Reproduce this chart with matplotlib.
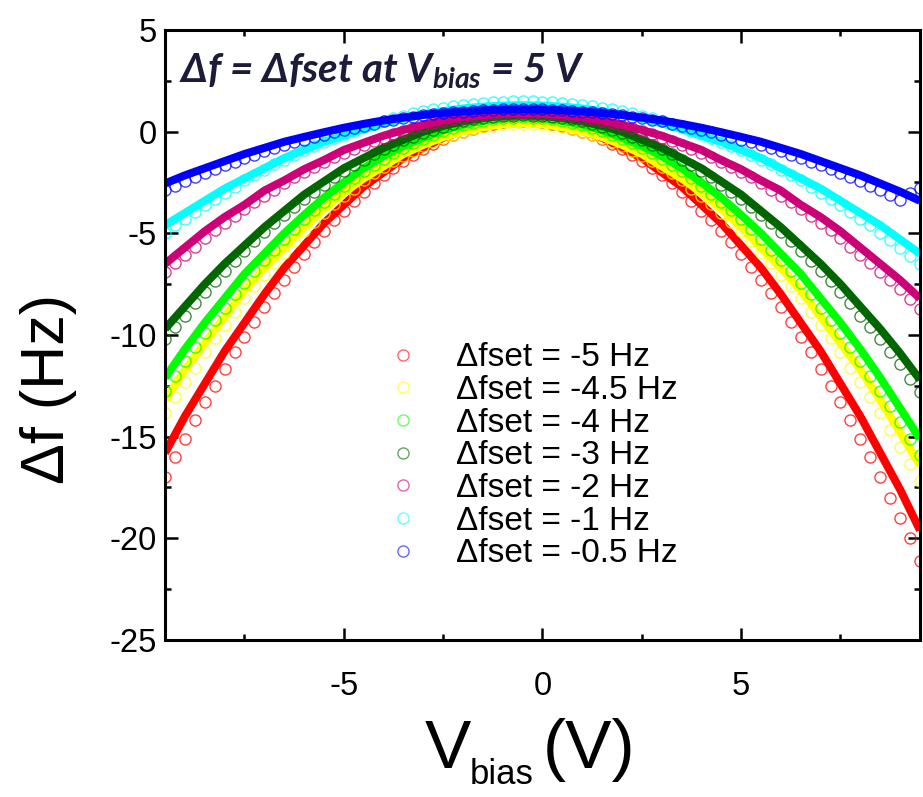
import numpy as np
import matplotlib
matplotlib.use("Agg")
import matplotlib.pyplot as plt
from matplotlib.lines import Line2D

plt.rcParams["font.family"] = ["Liberation Sans", "DejaVu Sans"]
plt.rcParams["axes.unicode_minus"] = False
plt.rcParams["mathtext.fontset"] = "custom"
plt.rcParams["mathtext.it"] = "Lato:italic:bold"
plt.rcParams["mathtext.rm"] = "Lato:bold"

# bias sweeps: measured points every 0.25 V, parabolic fits sampled every 0.5 V
V_MEAS = np.arange(-9.5, 9.51, 0.25)
V_FIT = np.arange(-9.5, 9.51, 0.5)

SET_POINTS = ["-5", "-4.5", "-4", "-3", "-2", "-1", "-0.5"]
COLORS = ["#ff0000", "#ffff00", "#00ff00", "#006600", "#cc0077", "#00ffff", "#0000ff"]

red_meas = [
    -17.0, -16.0, -15.1, -14.2, -13.3, -12.5, -11.65, -10.85, -10.1, -9.35,
    -8.6, -7.95, -7.3, -6.65, -6.0, -5.45, -4.9, -4.35, -3.9, -3.4,
    -2.95, -2.55, -2.15, -1.8, -1.45, -1.15, -0.85, -0.6, -0.35, -0.15,
    0.0, 0.15, 0.3, 0.4, 0.45, 0.5, 0.5, 0.5, 0.45, 0.4,
    0.3, 0.15, 0.0, -0.15, -0.35, -0.6, -0.85, -1.15, -1.45, -1.8,
    -2.15, -2.55, -2.95, -3.4, -3.9, -4.35, -4.9, -5.45, -6.0, -6.65,
    -7.3, -7.95, -8.6, -9.35, -10.1, -10.85, -11.65, -12.5, -13.3, -14.2,
    -15.1, -16.0, -17.0, -18.0, -19.0, -20.0, -21.1,
]
yellow_meas = [
    -13.85, -13.05, -12.3, -11.6, -10.85, -10.15, -9.5, -8.85, -8.2, -7.6,
    -7.05, -6.45, -5.95, -5.4, -4.9, -4.45, -4.0, -3.55, -3.15, -2.8,
    -2.4, -2.05, -1.75, -1.45, -1.2, -0.95, -0.7, -0.5, -0.3, -0.15,
    0.0, 0.13, 0.22, 0.3, 0.36, 0.39, 0.4, 0.39, 0.36, 0.3,
    0.22, 0.13, 0.0, -0.15, -0.3, -0.5, -0.7, -0.95, -1.2, -1.45,
    -1.75, -2.05, -2.4, -2.8, -3.15, -3.55, -4.0, -4.45, -4.9, -5.4,
    -5.95, -6.45, -7.05, -7.6, -8.2, -8.85, -9.5, -10.15, -10.85, -11.6,
    -12.3, -13.05, -13.85, -14.65, -15.5, -16.35, -17.2,
]
green_meas = [
    -12.75, -12.0, -11.3, -10.6, -9.9, -9.25, -8.65, -8.0, -7.45, -6.85,
    -6.3, -5.8, -5.3, -4.8, -4.3, -3.85, -3.45, -3.05, -2.65, -2.3,
    -1.95, -1.65, -1.35, -1.05, -0.8, -0.55, -0.35, -0.15, 0.05, 0.2,
    0.33, 0.44, 0.53, 0.6, 0.66, 0.69, 0.7, 0.69, 0.66, 0.6,
    0.53, 0.44, 0.33, 0.2, 0.05, -0.15, -0.35, -0.55, -0.8, -1.05,
    -1.35, -1.65, -1.95, -2.3, -2.65, -3.05, -3.45, -3.85, -4.3, -4.8,
    -5.3, -5.8, -6.3, -6.85, -7.45, -8.0, -8.65, -9.25, -9.9, -10.6,
    -11.3, -12.0, -12.75, -13.5, -14.3, -15.1, -15.9,
]
dkgreen_meas = [
    -10.2, -9.6, -9.05, -8.45, -7.9, -7.35, -6.85, -6.35, -5.85, -5.4,
    -4.95, -4.5, -4.1, -3.7, -3.3, -2.95, -2.6, -2.25, -1.95, -1.65,
    -1.4, -1.1, -0.85, -0.65, -0.4, -0.25, -0.05, 0.1, 0.25, 0.38,
    0.5, 0.6, 0.66, 0.72, 0.77, 0.79, 0.8, 0.79, 0.77, 0.72,
    0.66, 0.6, 0.5, 0.38, 0.25, 0.1, -0.05, -0.25, -0.4, -0.65,
    -0.85, -1.1, -1.4, -1.65, -1.95, -2.25, -2.6, -2.95, -3.3, -3.7,
    -4.1, -4.5, -4.95, -5.4, -5.85, -6.35, -6.85, -7.35, -7.9, -8.45,
    -9.05, -9.6, -10.2, -10.85, -11.45, -12.15, -12.8,
]
magenta_meas = [
    -6.9, -6.45, -6.05, -5.65, -5.25, -4.85, -4.5, -4.15, -3.8, -3.45,
    -3.15, -2.85, -2.55, -2.25, -2.0, -1.75, -1.5, -1.25, -1.05, -0.85,
    -0.65, -0.45, -0.3, -0.1, 0.05, 0.17, 0.3, 0.41, 0.52, 0.6,
    0.68, 0.75, 0.8, 0.85, 0.88, 0.89, 0.9, 0.89, 0.88, 0.85,
    0.8, 0.75, 0.68, 0.6, 0.52, 0.41, 0.3, 0.17, 0.05, -0.1,
    -0.3, -0.45, -0.65, -0.85, -1.05, -1.25, -1.5, -1.75, -2.0, -2.25,
    -2.55, -2.85, -3.15, -3.45, -3.8, -4.15, -4.5, -4.85, -5.25, -5.65,
    -6.05, -6.45, -6.9, -7.3, -7.75, -8.25, -8.7,
]
cyan_meas = [
    -5.0, -4.6, -4.3, -3.95, -3.6, -3.3, -3.0, -2.7, -2.4, -2.15,
    -1.9, -1.6, -1.4, -1.15, -0.9, -0.7, -0.5, -0.3, -0.1, 0.05,
    0.22, 0.38, 0.52, 0.65, 0.78, 0.9, 1.0, 1.1, 1.18, 1.26,
    1.32, 1.38, 1.42, 1.46, 1.48, 1.5, 1.5, 1.5, 1.48, 1.46,
    1.42, 1.38, 1.32, 1.26, 1.18, 1.1, 1.0, 0.9, 0.78, 0.65,
    0.52, 0.38, 0.22, 0.05, -0.1, -0.3, -0.5, -0.7, -0.9, -1.15,
    -1.4, -1.6, -1.9, -2.15, -2.4, -2.7, -3.0, -3.3, -3.6, -3.95,
    -4.3, -4.6, -5.0, -5.35, -5.7, -6.1, -6.5,
]
blue_meas = [
    -2.85, -2.65, -2.45, -2.25, -2.05, -1.85, -1.65, -1.5, -1.3, -1.15,
    -0.95, -0.8, -0.65, -0.5, -0.4, -0.25, -0.15, 0.0, 0.1, 0.2,
    0.3, 0.4, 0.5, 0.58, 0.65, 0.72, 0.8, 0.85, 0.9, 0.95,
    0.99, 1.02, 1.05, 1.07, 1.09, 1.1, 1.1, 1.1, 1.09, 1.07,
    1.05, 1.02, 0.99, 0.95, 0.9, 0.85, 0.8, 0.72, 0.65, 0.58,
    0.5, 0.4, 0.3, 0.2, 0.1, 0.0, -0.15, -0.25, -0.4, -0.5,
    -0.65, -0.8, -0.95, -1.15, -1.3, -1.5, -1.65, -1.85, -2.05, -2.25,
    -2.45, -2.65, -2.85, -3.1, -3.35, -3.0, -2.75,
]

red_fit = [
    -15.8, -14.0, -12.4, -10.8, -9.4, -8.0, -6.7, -5.6, -4.5, -3.6,
    -2.7, -2.0, -1.3, -0.8, -0.3, 0.05, 0.3, 0.45, 0.5, 0.45,
    0.3, 0.05, -0.3, -0.8, -1.3, -2.0, -2.7, -3.6, -4.5, -5.6,
    -6.7, -8.0, -9.4, -10.8, -12.4, -14.0, -15.8, -17.6, -19.6,
]
yellow_fit = [
    -13.2, -11.7, -10.4, -9.1, -7.8, -6.7, -5.7, -4.7, -3.8, -3.0,
    -2.3, -1.7, -1.1, -0.65, -0.27, 0.02, 0.23, 0.36, 0.4, 0.36,
    0.23, 0.02, -0.27, -0.65, -1.1, -1.7, -2.3, -3.0, -3.8, -4.7,
    -5.7, -6.7, -7.8, -9.1, -10.4, -11.7, -13.2, -14.8, -16.4,
]
green_fit = [
    -12.1, -10.7, -9.4, -8.2, -7.0, -6.0, -5.0, -4.1, -3.25, -2.5,
    -1.8, -1.2, -0.7, -0.3, 0.07, 0.34, 0.54, 0.66, 0.7, 0.66,
    0.54, 0.34, 0.07, -0.3, -0.7, -1.2, -1.8, -2.5, -3.25, -4.1,
    -5.0, -6.0, -7.0, -8.2, -9.4, -10.7, -12.1, -13.6, -15.1,
]
dkgreen_fit = [
    -9.7, -8.6, -7.5, -6.5, -5.6, -4.7, -3.9, -3.1, -2.45, -1.8,
    -1.3, -0.8, -0.4, 0.0, 0.28, 0.51, 0.67, 0.77, 0.8, 0.77,
    0.67, 0.51, 0.28, 0.0, -0.4, -0.8, -1.3, -1.8, -2.45, -3.1,
    -3.9, -4.7, -5.6, -6.5, -7.5, -8.6, -9.7, -10.9, -12.2,
]
magenta_fit = [
    -6.5, -5.7, -4.9, -4.2, -3.6, -2.9, -2.4, -1.85, -1.4, -0.9,
    -0.55, -0.2, 0.08, 0.33, 0.54, 0.7, 0.81, 0.88, 0.9, 0.88,
    0.81, 0.7, 0.54, 0.33, 0.08, -0.2, -0.55, -0.9, -1.4, -1.85,
    -2.4, -2.9, -3.6, -4.2, -4.9, -5.7, -6.5, -7.3, -8.2,
]
cyan_fit = [
    -4.6, -4.0, -3.4, -2.8, -2.3, -1.8, -1.3, -0.9, -0.5, -0.2,
    0.13, 0.41, 0.64, 0.84, 1.01, 1.14, 1.23, 1.28, 1.3, 1.28,
    1.23, 1.14, 1.01, 0.84, 0.64, 0.41, 0.13, -0.2, -0.5, -0.9,
    -1.3, -1.8, -2.3, -2.8, -3.4, -4.0, -4.6, -5.3, -6.0,
]
blue_fit = [
    -2.55, -2.15, -1.8, -1.45, -1.1, -0.8, -0.5, -0.26, -0.03, 0.19,
    0.38, 0.55, 0.69, 0.82, 0.92, 1.0, 1.05, 1.09, 1.1, 1.09,
    1.05, 1.0, 0.92, 0.82, 0.69, 0.55, 0.38, 0.19, -0.03, -0.26,
    -0.5, -0.8, -1.1, -1.45, -1.8, -2.15, -2.55, -2.95, -3.4,
]

MEASURED = [red_meas, yellow_meas, green_meas, dkgreen_meas, magenta_meas, cyan_meas, blue_meas]
FITS = [red_fit, yellow_fit, green_fit, dkgreen_fit, magenta_fit, cyan_fit, blue_fit]

fig = plt.figure(figsize=(9.23, 7.97), dpi=100)
ax = fig.add_axes([0.1788, 0.197, 0.8179, 0.7654])

handles = []
for meas, fit, color, dfset in zip(MEASURED, FITS, COLORS, SET_POINTS):
    ax.plot(V_MEAS, meas, ls="none", marker="o", ms=8, mfc="none", mec=color, mew=1.0, alpha=0.75)
    ax.plot(V_FIT, fit, color=color, lw=5.8, solid_capstyle="butt")
    handles.append(Line2D([], [], ls="none", marker="o", ms=8, mfc="none", mec=color, mew=1.0,
                          alpha=0.6, label=f"\u0394fset = {dfset} Hz"))

ax.set_xlim(-9.5, 9.5)
ax.set_ylim(-25, 5)
ax.set_xticks([-5, 0, 5])
ax.set_xticks([-7.5, -2.5, 2.5, 7.5], minor=True)
ax.set_yticks(np.arange(-25, 6, 5))
ax.set_yticks(np.arange(-22.5, 5, 5), minor=True)
ax.tick_params(which="both", direction="in", top=True, right=True, width=1.8, color="black")
ax.tick_params(which="major", length=9)
ax.tick_params(which="minor", length=4.5)
ax.tick_params(axis="x", labelsize=23.5, pad=22)
ax.tick_params(axis="y", labelsize=23.5, pad=6)
for spine in ax.spines.values():
    spine.set_linewidth(2.2)

ax.legend(handles=handles, loc="upper left", bbox_to_anchor=(0.28, 0.51), frameon=False,
          fontsize=24, handlelength=0.8, handletextpad=1.2, labelspacing=0.05,
          borderaxespad=0)

ax.text(0.018, 0.913, "\u0394f = \u0394fset at V$_{bias}$ = 5 V", transform=ax.transAxes,
        fontsize=29, style="italic", weight="bold", family=["Lato", "DejaVu Sans"],
        color="#1c1c3a", ha="left", va="baseline")

fig.text(0.053, 0.512, "\u0394f (Hz)", rotation=90, ha="center", va="center", fontsize=44)
fig.text(0.4605, 0.036, "V", ha="left", va="baseline", fontsize=50)
fig.text(0.509, 0.016, "bias", ha="left", va="baseline", fontsize=25)
fig.text(0.588, 0.036, "(V)", ha="left", va="baseline", fontsize=50)

fig.savefig("out.png", dpi=100)
